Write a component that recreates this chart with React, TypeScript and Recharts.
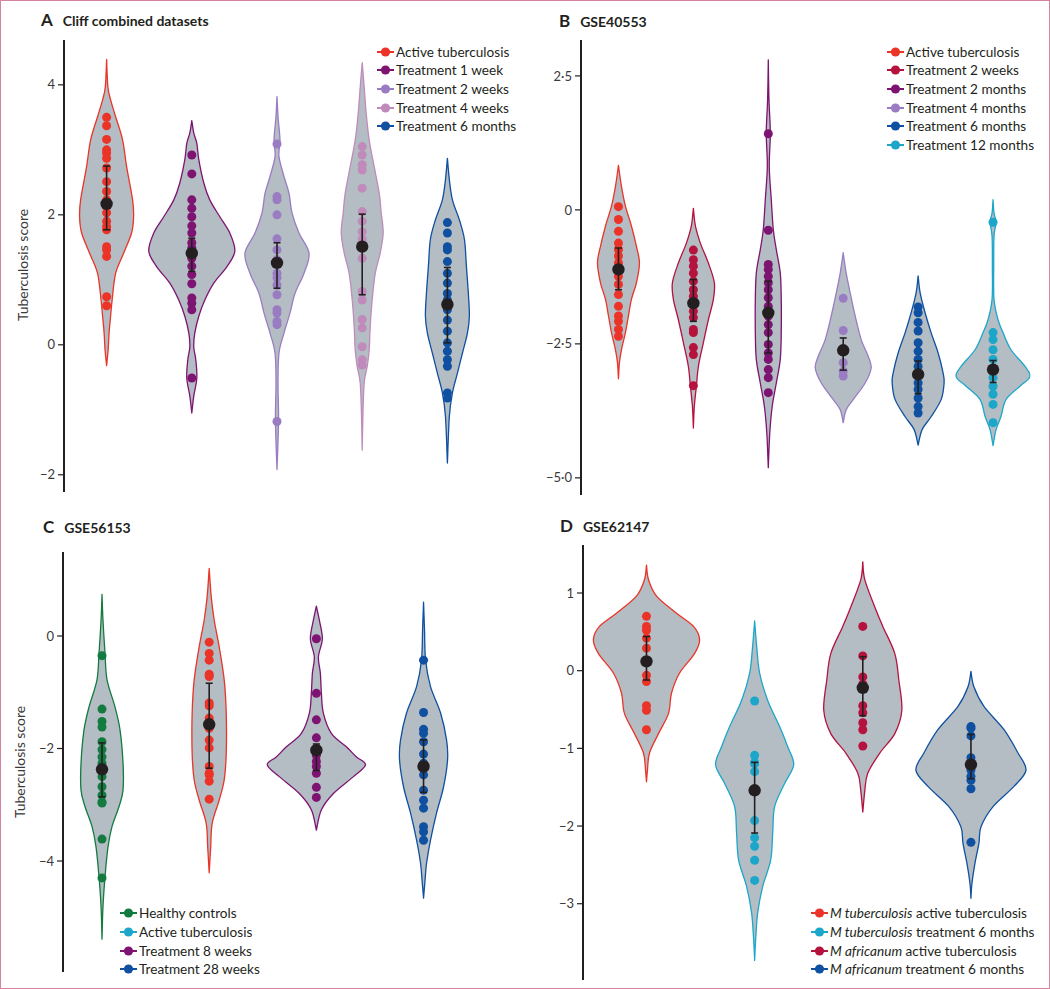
import React from 'react';
import { ComposedChart, Scatter, XAxis, YAxis } from 'recharts';

type Pt = [number, number];

// ---------- Panel A : Cliff combined datasets ----------
const aLabels = ['Active tuberculosis', 'Treatment 1 week', 'Treatment 2 weeks', 'Treatment 4 weeks', 'Treatment 6 months'];
const aColors = ['#eb3427', '#7d1472', '#9a7cc2', '#c08bba', '#1050a0'];
const aTicks = [-2, 0, 2, 4];
const aDots: number[][] = [
  [3.5, 3.37, 3.16, 3.0, 2.95, 2.87, 2.72, 2.51, 2.36, 2.23, 2.13, 2.03, 1.9, 1.82, 1.77, 1.51, 1.46, 1.36, 0.74, 0.6],
  [2.92, 2.63, 2.23, 2.1, 1.97, 1.83, 1.72, 1.57, 1.49, 1.41, 1.33, 1.21, 1.08, 0.94, 0.72, 0.64, 0.54, -0.51],
  [3.09, 2.28, 2.23, 2.0, 1.63, 1.46, 1.31, 1.26, 1.1, 1.03, 0.92, 0.77, 0.54, 0.49, 0.36, 0.31, -1.18],
  [3.05, 2.92, 2.77, 2.69, 2.41, 2.05, 1.9, 1.74, 1.62, 1.49, 1.33, 0.82, 0.69, 0.39, 0.26, -0.03, -0.23, -0.31],
  [1.88, 1.72, 1.51, 1.46, 1.28, 1.1, 0.95, 0.79, 0.69, 0.54, 0.38, 0.21, 0.03, -0.1, -0.23, -0.33, -0.74, -0.82],
];
const aMeans = [2.17, 1.41, 1.26, 1.51, 0.62];
const aLow = [1.77, 1.13, 0.87, 0.77, 0.03];
const aHigh = [2.75, 1.64, 1.57, 2.01, 1.19];
const aProfiles: Pt[][] = [
  [[4.39, 0], [3.97, 0.015], [3.77, 0.047], [3.51, 0.106], [3.15, 0.188], [2.74, 0.235], [2.23, 0.305], [1.97, 0.317], [1.72, 0.293], [1.41, 0.2], [1.1, 0.106], [0.69, 0.065], [0.44, 0.047], [0.18, 0.029], [-0.08, 0.018], [-0.32, 0]],
  [[3.45, 0], [3.26, 0.023], [3.1, 0.059], [2.85, 0.082], [2.49, 0.141], [2.23, 0.211], [1.97, 0.329], [1.72, 0.446], [1.44, 0.505], [1.2, 0.411], [0.95, 0.258], [0.69, 0.153], [0.44, 0.082], [0.18, 0.035], [-0.03, 0.023], [-0.23, 0.047], [-0.51, 0.059], [-0.79, 0.023], [-1.05, 0]],
  [[3.82, 0], [3.51, 0.012], [3.15, 0.035], [2.9, 0.023], [2.59, 0.082], [2.33, 0.141], [2.03, 0.176], [1.72, 0.258], [1.41, 0.376], [1.1, 0.317], [0.79, 0.211], [0.49, 0.153], [0.18, 0.082], [-0.13, 0.023], [-0.59, 0.012], [-1.18, 0.018], [-1.92, 0]],
  [[4.34, 0], [3.97, 0.023], [3.56, 0.047], [3.15, 0.082], [2.74, 0.141], [2.33, 0.2], [2.03, 0.223], [1.72, 0.246], [1.41, 0.211], [1.1, 0.153], [0.69, 0.117], [0.28, 0.094], [-0.08, 0.082], [-0.33, 0.059], [-0.59, 0.023], [-1.1, 0.008], [-1.62, 0]],
  [[2.87, 0], [2.54, 0.023], [2.23, 0.059], [1.92, 0.141], [1.62, 0.2], [1.21, 0.223], [0.79, 0.246], [0.44, 0.258], [0.18, 0.235], [-0.13, 0.176], [-0.44, 0.117], [-0.74, 0.059], [-1.1, 0.023], [-1.82, 0]],
];

// ---------- Panel B : GSE40553 ----------
const bLabels = ['Active tuberculosis', 'Treatment 2 weeks', 'Treatment 2 months', 'Treatment 4 months', 'Treatment 6 months', 'Treatment 12 months'];
const bColors = ['#eb3427', '#b5123e', '#7d1472', '#9a7cc2', '#1050a0', '#1ba6ca'];
const bTicks = [-5, -2.5, 0, 2.5];
const bDots: number[][] = [
  [0.06, -0.18, -0.4, -0.62, -0.74, -0.86, -0.99, -1.11, -1.24, -1.39, -1.58, -1.8, -1.98, -2.08, -2.23, -2.36],
  [-0.75, -0.93, -1.05, -1.18, -1.33, -1.49, -1.61, -1.74, -1.89, -2.01, -2.23, -2.29, -2.57, -2.7, -3.28],
  [1.42, -0.38, -1.02, -1.11, -1.24, -1.36, -1.49, -1.64, -1.8, -1.98, -2.14, -2.29, -2.51, -2.67, -2.79, -2.98, -3.13, -3.41],
  [-1.65, -2.25, -2.64, -2.85, -3.01, -3.1],
  [-1.81, -1.92, -2.1, -2.26, -2.48, -2.64, -2.79, -2.92, -3.07, -3.23, -3.35, -3.51, -3.67, -3.79],
  [-0.23, -2.29, -2.42, -2.61, -2.79, -2.95, -3.13, -3.29, -3.44, -3.63, -3.97],
];
const bMeans = [-1.11, -1.74, -1.92, -2.62, -3.07, -2.98];
const bLow = [-1.49, -2.08, -2.67, -2.99, -3.43, -3.22];
const bHigh = [-0.71, -1.3, -1.33, -2.39, -2.82, -2.81];
const bProfiles: Pt[][] = [
  [[0.83, 0], [0.44, 0.04], [0.07, 0.093], [-0.3, 0.173], [-0.68, 0.24], [-0.99, 0.28], [-1.36, 0.24], [-1.67, 0.173], [-1.98, 0.133], [-2.29, 0.093], [-2.61, 0.04], [-2.85, 0.013], [-3.15, 0]],
  [[0.03, 0], [-0.3, 0.027], [-0.62, 0.093], [-0.99, 0.2], [-1.36, 0.28], [-1.67, 0.267], [-2.05, 0.2], [-2.48, 0.133], [-2.92, 0.067], [-3.29, 0.04], [-3.66, 0.013], [-4.07, 0]],
  [[2.8, 0], [2.06, 0.009], [1.44, 0.027], [0.81, 0.013], [0.19, 0.04], [-0.37, 0.067], [-0.74, 0.107], [-1.18, 0.16], [-1.67, 0.173], [-2.29, 0.173], [-2.79, 0.16], [-3.23, 0.107], [-3.66, 0.053], [-4.16, 0.02], [-4.81, 0]],
  [[-0.8, 0], [-1.18, 0.04], [-1.55, 0.093], [-1.98, 0.16], [-2.42, 0.24], [-2.73, 0.333], [-2.95, 0.373], [-3.23, 0.293], [-3.54, 0.133], [-3.73, 0.04], [-3.97, 0]],
  [[-1.23, 0], [-1.55, 0.027], [-1.92, 0.093], [-2.29, 0.173], [-2.67, 0.267], [-3.04, 0.333], [-3.23, 0.347], [-3.54, 0.307], [-3.86, 0.173], [-4.1, 0.053], [-4.39, 0]],
  [[0.19, 0], [-0.06, 0.013], [-0.23, 0.04], [-0.49, 0.013], [-1.05, 0.009], [-1.67, 0.013], [-2.05, 0.067], [-2.29, 0.133], [-2.61, 0.24], [-2.92, 0.427], [-3.11, 0.493], [-3.29, 0.36], [-3.54, 0.173], [-3.85, 0.107], [-4.1, 0.04], [-4.4, 0]],
];

// ---------- Panel C : GSE56153 ----------
const cLabels = ['Healthy controls', 'Active tuberculosis', 'Treatment 8 weeks', 'Treatment 28 weeks'];
const cColors = ['#137b40', '#eb3427', '#7d1472', '#1050a0'];
const cLegendColors = ['#137b40', '#1ba6ca', '#7d1472', '#1050a0'];
const cTicks = [-4, -2, 0];
const cDots: number[][] = [
  [-0.35, -1.3, -1.52, -1.62, -1.88, -2.02, -2.15, -2.26, -2.38, -2.5, -2.68, -2.83, -2.95, -2.97, -3.61, -4.3],
  [-0.11, -0.31, -0.43, -0.68, -0.72, -1.19, -1.24, -1.46, -1.64, -1.85, -1.99, -2.32, -2.44, -2.47, -2.58, -2.9],
  [-0.05, -1.02, -1.49, -1.81, -2.12, -2.23, -2.32, -2.44, -2.69, -2.87],
  [-0.43, -1.36, -1.66, -1.73, -1.88, -2.1, -2.26, -2.35, -2.47, -2.74, -2.92, -3.06, -3.39, -3.48, -3.63],
];
const cMeans = [-2.37, -1.57, -2.03, -2.32];
const cLow = [-2.86, -2.35, -2.39, -2.78];
const cHigh = [-1.9, -0.84, -1.92, -1.85];
const cProfiles: Pt[][] = [
  [[0.74, 0], [0.28, 0.009], [-0.31, 0.028], [-0.78, 0.047], [-1.26, 0.121], [-1.67, 0.168], [-2.26, 0.196], [-2.74, 0.196], [-3.03, 0.159], [-3.39, 0.093], [-3.75, 0.056], [-4.28, 0.028], [-4.81, 0.009], [-5.39, 0]],
  [[1.2, 0], [0.7, 0.019], [0.28, 0.047], [-0.19, 0.093], [-0.78, 0.14], [-1.37, 0.159], [-2.09, 0.159], [-2.56, 0.14], [-2.92, 0.093], [-3.33, 0.028], [-3.75, 0.014], [-4.21, 0]],
  [[0.53, 0], [0.28, 0.028], [-0.05, 0.056], [-0.37, 0.019], [-0.66, 0.037], [-1.02, 0.047], [-1.37, 0.065], [-1.73, 0.14], [-1.97, 0.28], [-2.15, 0.374], [-2.29, 0.458], [-2.5, 0.346], [-2.8, 0.159], [-3.09, 0.047], [-3.45, 0]],
  [[0.6, 0], [0.11, 0.009], [-0.43, 0.019], [-0.9, 0.065], [-1.37, 0.159], [-1.85, 0.215], [-2.2, 0.224], [-2.68, 0.187], [-3.15, 0.121], [-3.63, 0.065], [-4.04, 0.028], [-4.34, 0.014], [-4.66, 0]],
];

// ---------- Panel D : GSE62147 ----------
const dSpecies = ['M tuberculosis', 'M tuberculosis', 'M africanum', 'M africanum'];
const dStatus = ['active tuberculosis', 'treatment 6 months', 'active tuberculosis', 'treatment 6 months'];
const dColors = ['#eb3427', '#1ba6ca', '#b5123e', '#1050a0'];
const dTicks = [-3, -2, -1, 0, 1];
const dDots: number[][] = [
  [0.7, 0.57, 0.52, 0.42, 0.29, 0.12, -0.06, -0.14, -0.45, -0.51, -0.76],
  [-0.39, -1.09, -1.18, -1.2, -1.3, -1.93, -2.15, -2.26, -2.44, -2.7],
  [0.57, 0.19, -0.08, -0.17, -0.45, -0.54, -0.67, -0.76, -0.97],
  [-0.72, -0.74, -0.84, -1.12, -1.28, -1.36, -1.41, -1.52, -2.21],
];
const dMeans = [0.12, -1.54, -0.22, -1.21];
const dLow = [-0.12, -2.09, -0.58, -1.39];
const dHigh = [0.44, -1.18, 0.18, -0.82];
const dProfiles: Pt[][] = [
  [[1.36, 0], [1.17, 0.019], [0.96, 0.093], [0.74, 0.278], [0.57, 0.435], [0.4, 0.491], [0.22, 0.444], [-0.03, 0.306], [-0.29, 0.231], [-0.55, 0.204], [-0.81, 0.111], [-1.06, 0.028], [-1.28, 0.009], [-1.43, 0]],
  [[0.64, 0], [0.31, 0.019], [-0.03, 0.046], [-0.38, 0.12], [-0.72, 0.231], [-0.98, 0.306], [-1.21, 0.361], [-1.45, 0.278], [-1.75, 0.185], [-2.09, 0.167], [-2.44, 0.148], [-2.78, 0.074], [-3.12, 0.028], [-3.47, 0.009], [-3.73, 0]],
  [[1.4, 0], [1.17, 0.019], [0.82, 0.111], [0.57, 0.185], [0.22, 0.296], [-0.12, 0.333], [-0.51, 0.361], [-0.81, 0.296], [-1.06, 0.157], [-1.32, 0.046], [-1.54, 0.019], [-1.82, 0]],
  [[-0.01, 0], [-0.21, 0.028], [-0.46, 0.12], [-0.76, 0.306], [-1.06, 0.435], [-1.28, 0.509], [-1.49, 0.398], [-1.75, 0.204], [-2.01, 0.093], [-2.22, 0.074], [-2.48, 0.037], [-2.74, 0.009], [-2.93, 0]],
];

// ---------- styling ----------
const FONT = 'Lato, "Open Sans", "DejaVu Sans", sans-serif';
const INK = '#231f20';
const VIOLIN_FILL = '#b4bdc4';

const minus = (s: string) => s.replace('-', '\u2212');
const fmtInt = (v: number) => minus(String(v));
const fmtDot = (v: number) => (v === 0 ? '0' : minus(v.toFixed(1).replace('.', '\u00b7')));

type XY = { x: number; y: number };

function bezierSeg(p: XY[]): string {
  let s = '';
  for (let i = 0; i < p.length - 1; i++) {
    const p0 = p[i - 1] || p[i];
    const p1 = p[i];
    const p2 = p[i + 1];
    const p3 = p[i + 2] || p[i + 1];
    const c1x = p1.x + (p2.x - p0.x) / 6;
    const c1y = p1.y + (p2.y - p0.y) / 6;
    const c2x = p2.x - (p3.x - p1.x) / 6;
    const c2y = p2.y - (p3.y - p1.y) / 6;
    s += `C${c1x.toFixed(2)},${c1y.toFixed(2)} ${c2x.toFixed(2)},${c2y.toFixed(2)} ${p2.x.toFixed(2)},${p2.y.toFixed(2)}`;
  }
  return s;
}

const violinLine = (color: string) => (props: any) => {
  const pts: XY[] = (props && props.points) || [];
  if (pts.length < 4) return <g />;
  const n = pts.length / 2;
  const left = pts.slice(0, n);
  const right = pts.slice(n);
  const d = `M${left[0].x.toFixed(2)},${left[0].y.toFixed(2)}` + bezierSeg(left) + bezierSeg(right) + 'Z';
  return <path d={d} fill={VIOLIN_FILL} stroke={color} strokeWidth={1.3} strokeLinejoin="round" />;
};

// vertical whisker between the two points of an interval
const whiskerLine = (props: any) => {
  const pts: XY[] = (props && props.points) || [];
  if (pts.length < 2) return <g />;
  return <path d={`M${pts[0].x},${pts[0].y}L${pts[1].x},${pts[1].y}`} stroke={INK} strokeWidth={1.6} fill="none" />;
};
const capShape = (p: any) => <line x1={p.cx - 3.5} x2={p.cx + 3.5} y1={p.cy} y2={p.cy} stroke={INK} strokeWidth={1.6} />;

const violinData = (profile: Pt[], i: number) => {
  const left = profile.map(([v, w]) => ({ x: i - w, y: v }));
  const right = profile.slice().reverse().map(([v, w]) => ({ x: i + w, y: v }));
  return [...left, ...right];
};

const noShape = () => <g />;
const dotShape = (color: string, r: number) => (p: any) => <circle cx={p.cx} cy={p.cy} r={r} fill={color} />;

interface PanelProps {
  profiles: Pt[][];
  dots: number[][];
  means: number[];
  low: number[];
  high: number[];
  colors: string[];
  ticks: number[];
  fmt: (v: number) => string;
  yDomain: [number, number];
  xDomain: [number, number];
  left: number;
  top: number;
  width: number;
  height: number;
  margin: { top: number; right: number; bottom: number; left: number };
  yAxisWidth: number;
}

function Panel(p: PanelProps) {
  const meanData = p.means.map((m, i) => ({ x: i, y: m }));
  return (
    <div style={{ position: 'absolute', left: p.left, top: p.top }}>
      <ComposedChart width={p.width} height={p.height} margin={p.margin}>
        <XAxis type="number" dataKey="x" domain={p.xDomain} allowDataOverflow hide />
        <YAxis
          type="number"
          dataKey="y"
          domain={p.yDomain}
          allowDataOverflow
          ticks={p.ticks}
          interval={0}
          tickFormatter={p.fmt}
          width={p.yAxisWidth}
          axisLine={{ stroke: INK, strokeWidth: 2 }}
          tickLine={{ stroke: INK, strokeWidth: 1.2 }}
          tickSize={6}
          tickMargin={3}
          tick={{ fill: '#3a3a3a', fontSize: 13, fontFamily: FONT }}
        />
        {p.profiles.map((prof, i) => (
          <Scatter key={'v' + i} data={violinData(prof, i)} line={violinLine(p.colors[i])} shape={noShape} isAnimationActive={false} />
        ))}
        {p.dots.map((d, i) => (
          <Scatter key={'d' + i} data={d.map((v) => ({ x: i, y: v }))} shape={dotShape(p.colors[i], 4.5)} isAnimationActive={false} />
        ))}
        {p.means.map((_, i) => (
          <Scatter key={'e' + i} data={[{ x: i, y: p.low[i] }, { x: i, y: p.high[i] }]} line={whiskerLine} shape={capShape} isAnimationActive={false} />
        ))}
        <Scatter data={meanData} shape={dotShape(INK, 6.2)} isAnimationActive={false} />
      </ComposedChart>
    </div>
  );
}

function LegendBox({ left, top, colors, children }: { left: number; top: number; colors: string[]; children: React.ReactNode[] }) {
  return (
    <div style={{ position: 'absolute', left, top, fontFamily: FONT, fontSize: 13.6, color: INK }}>
      {children.map((t, i) => (
        <div key={i} style={{ display: 'flex', alignItems: 'center', height: 18.7, whiteSpace: 'nowrap' }}>
          <svg width={17} height={10} style={{ marginRight: 2, flex: 'none' }}>
            <line x1={0} y1={5} x2={17} y2={5} stroke={colors[i]} strokeWidth={2} />
            <circle cx={8.5} cy={5} r={4.6} fill={colors[i]} />
          </svg>
          <span>{t}</span>
        </div>
      ))}
    </div>
  );
}

function Title({ left, cy, letter, text }: { left: number; cy: number; letter: string; text: string }) {
  return (
    <div style={{ position: 'absolute', left, top: cy - 11, height: 22, lineHeight: '22px', fontFamily: FONT, color: INK, whiteSpace: 'nowrap' }}>
      <span style={{ fontSize: 17, fontWeight: 700, marginRight: 10 }}>{letter}</span>
      <span style={{ fontSize: 14, fontWeight: 700 }}>{text}</span>
    </div>
  );
}

function YLabel({ cx, cy }: { cx: number; cy: number }) {
  return (
    <div style={{ position: 'absolute', left: cx - 80, top: cy - 10, width: 160, height: 20, lineHeight: '20px', textAlign: 'center', transform: 'rotate(-90deg)', fontFamily: FONT, fontSize: 14, color: '#3a3a3a' }}>
      Tuberculosis score
    </div>
  );
}

export default function App() {
  return (
    <div style={{ position: 'absolute', left: 0, top: 0, width: 1050, height: 989, background: '#fff', boxSizing: 'border-box', border: '1px solid #d6839f', overflow: 'hidden' }}>
      <div style={{ position: 'absolute', left: -1, top: -1, width: 1050, height: 989 }}>
        <Panel profiles={aProfiles} dots={aDots} means={aMeans} low={aLow} high={aHigh} colors={aColors} ticks={aTicks} fmt={fmtInt}
          yDomain={[-2.265, 4.69]} xDomain={[-0.5, 4.5]} left={0} top={0} width={530} height={500}
          margin={{ top: 40, right: 40, bottom: 8, left: 20 }} yAxisWidth={44} />
        <Panel profiles={bProfiles} dots={bDots} means={bMeans} low={bLow} high={bHigh} colors={bColors} ticks={bTicks} fmt={fmtDot}
          yDomain={[-5.32, 3.17]} xDomain={[-0.5, 5.5]} left={530} top={0} width={520} height={505}
          margin={{ top: 40, right: 19.5, bottom: 10, left: 6 }} yAxisWidth={45} />
        <Panel profiles={cProfiles} dots={cDots} means={cMeans} low={cLow} high={cHigh} colors={cColors} ticks={cTicks} fmt={fmtInt}
          yDomain={[-5.973, 1.493]} xDomain={[-0.364, 3.62]} left={0} top={500} width={530} height={489}
          margin={{ top: 52, right: 40, bottom: 17, left: 19 }} yAxisWidth={44} />
        <Panel profiles={dProfiles} dots={dDots} means={dMeans} low={dLow} high={dHigh} colors={dColors} ticks={dTicks} fmt={fmtInt}
          yDomain={[-3.982, 1.618]} xDomain={[-0.587, 3.546]} left={530} top={500} width={520} height={489}
          margin={{ top: 45, right: 20, bottom: 9, left: 8 }} yAxisWidth={45} />

        <Title left={41} cy={20} letter="A" text="Cliff combined datasets" />
        <Title left={559} cy={21} letter="B" text="GSE40553" />
        <Title left={43} cy={527} letter="C" text="GSE56153" />
        <Title left={560} cy={526} letter="D" text="GSE62147" />

        <YLabel cx={23} cy={265} />
        <YLabel cx={20} cy={762} />

        <LegendBox left={377} top={42.3} colors={aColors}>{aLabels}</LegendBox>
        <LegendBox left={887} top={42.3} colors={bColors}>{bLabels}</LegendBox>
        <LegendBox left={120} top={904} colors={cLegendColors}>{cLabels}</LegendBox>
        <LegendBox left={811} top={904} colors={dColors}>
          {dSpecies.map((s, i) => (
            <React.Fragment key={i}>
              <i>{s}</i> {dStatus[i]}
            </React.Fragment>
          ))}
        </LegendBox>
      </div>
    </div>
  );
}
